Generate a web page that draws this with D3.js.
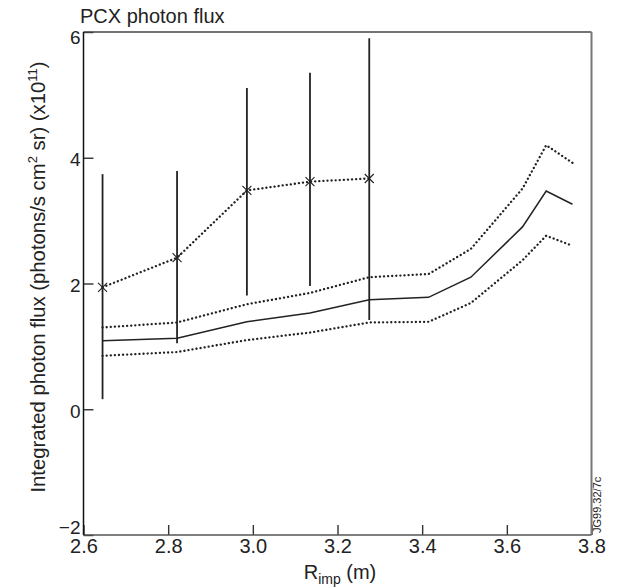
<!DOCTYPE html>
<html>
<head>
<meta charset="utf-8">
<script src="https://cdnjs.cloudflare.com/ajax/libs/d3/7.8.5/d3.min.js"></script>
<style>
body { margin: 0; background: #fff; }
text { font-family: "Liberation Sans", Arial, sans-serif; fill: #222; }
</style>
</head>
<body>
<div id="graph"></div>
<script>
// R positions of the model curve and its band
var rPos = [2.645, 2.821, 2.986, 3.135, 3.275, 3.415, 3.515, 3.637, 3.693, 3.755];
var fluxModel = [1.09, 1.13, 1.39, 1.53, 1.74, 1.78, 2.10, 2.90, 3.47, 3.26];
var fluxUpper = [1.30, 1.38, 1.67, 1.85, 2.10, 2.15, 2.55, 3.51, 4.20, 3.92];
var fluxLower = [0.85, 0.91, 1.10, 1.22, 1.38, 1.39, 1.69, 2.37, 2.76, 2.60];
// measured points with error bars
var rMeas = [2.645, 2.821, 2.986, 3.135, 3.275];
var fluxMeas = [1.94, 2.41, 3.48, 3.62, 3.67];
var errLow = [0.16, 1.05, 1.81, 1.96, 1.42];
var errHigh = [3.74, 3.79, 5.11, 5.35, 5.90];
var xTicks = [2.6, 2.8, 3.0, 3.2, 3.4, 3.6, 3.8];
var yTicks = [-2, 0, 2, 4, 6];

var pLeft = 83.5, pRight = 591.5, pTop = 32, pBottom = 535;

var vis = d3.select("#graph")
    .append("svg")
    .attr("width", 618).attr("height", 587);

var x = d3.scaleLinear().domain([2.6, 3.8]).range([pLeft, pRight]);
var y = d3.scaleLinear().domain([-2, 6]).range([pBottom, pTop]);

// axes, ticks pointing inwards
var gx = vis.append("g")
    .attr("transform", "translate(0," + pBottom + ")")
    .call(d3.axisBottom(x).tickValues(xTicks).tickSizeInner(-10).tickSizeOuter(0)
        .tickPadding(4).tickFormat(d3.format(".1f")));
gx.select(".domain").remove();
gx.selectAll("line").attr("stroke", "#333").attr("stroke-width", 1.4);
gx.selectAll("text").attr("font-size", 20).attr("fill", "#222")
    .style("font-family", "'Liberation Sans', Arial, sans-serif");

var gy = vis.append("g")
    .attr("transform", "translate(" + pLeft + ",0)")
    .call(d3.axisLeft(y).tickValues(yTicks).tickSizeInner(-10).tickSizeOuter(0).tickPadding(3));
gy.select(".domain").remove();
gy.selectAll("line").attr("stroke", "#333").attr("stroke-width", 1.4);
gy.selectAll("text").attr("font-size", 19).attr("fill", "#222")
    .style("font-family", "'Liberation Sans', Arial, sans-serif")
    .attr("dy", function (d) {
        if (d == 6) return "0.62em";
        if (d == -2) return "-0.06em";
        return "0.42em";
    });

// frame
vis.append("line").attr("x1", pLeft).attr("x2", pRight).attr("y1", pTop).attr("y2", pTop)
    .attr("stroke", "#444").attr("stroke-width", 1.5);
vis.append("line").attr("x1", pRight).attr("x2", pRight).attr("y1", pTop).attr("y2", pBottom)
    .attr("stroke", "#777").attr("stroke-width", 2);
vis.append("line").attr("x1", pLeft).attr("x2", pRight).attr("y1", pBottom).attr("y2", pBottom)
    .attr("stroke", "#555").attr("stroke-width", 1.5);
vis.append("line").attr("x1", pLeft).attr("x2", pLeft).attr("y1", pTop).attr("y2", pBottom)
    .attr("stroke", "#111").attr("stroke-width", 1.5);

function draw_curve(rs, vals, dotted) {
    var line = d3.line()
        .x(function (d, i) { return x(rs[i]); })
        .y(function (d) { return y(d); });
    var p = vis.append("path")
        .attr("d", line(vals))
        .attr("fill", "none")
        .attr("stroke", "#222");
    if (dotted) {
        p.attr("stroke-width", 2.3)
            .attr("stroke-linecap", "round")
            .attr("stroke-dasharray", "0.1,4");
    } else {
        p.attr("stroke-width", 1.5);
    }
}

draw_curve(rPos, fluxUpper, true);
draw_curve(rPos, fluxModel, false);
draw_curve(rPos, fluxLower, true);
draw_curve(rMeas, fluxMeas, true);

// error bars
vis.selectAll(".err")
    .data(rMeas)
    .enter()
    .append("line")
    .attr("x1", function (d) { return x(d); })
    .attr("x2", function (d) { return x(d); })
    .attr("y1", function (d, i) { return y(errLow[i]); })
    .attr("y2", function (d, i) { return y(errHigh[i]); })
    .attr("stroke", "#222")
    .attr("stroke-width", 1.8);

// crosses
vis.selectAll(".cross")
    .data(rMeas)
    .enter()
    .append("path")
    .attr("d", function (d, i) {
        var cx = x(d), cy = y(fluxMeas[i]), s = 4.5;
        return "M" + (cx - s) + "," + (cy - s) + "L" + (cx + s) + "," + (cy + s) +
            "M" + (cx - s) + "," + (cy + s) + "L" + (cx + s) + "," + (cy - s);
    })
    .attr("fill", "none")
    .attr("stroke", "#222")
    .attr("stroke-width", 1.1);

// texts
vis.append("text")
    .attr("x", 80).attr("y", 23)
    .attr("font-size", 20)
    .text("PCX photon flux");

var xl = vis.append("text")
    .attr("x", 340).attr("y", 579)
    .attr("font-size", 20)
    .attr("text-anchor", "middle");
xl.append("tspan").text("R");
xl.append("tspan").attr("font-size", 14).attr("dy", 5).text("imp");
xl.append("tspan").attr("dy", -5).text(" (m)");

var yl = vis.append("text")
    .attr("transform", "translate(45,277) rotate(-90)")
    .attr("font-size", 20.3)
    .attr("text-anchor", "middle");
yl.append("tspan").text("Integrated photon flux (photons/s cm");
yl.append("tspan").attr("font-size", 13).attr("dy", -8).text("2");
yl.append("tspan").attr("dy", 8).text(" sr) (x10");
yl.append("tspan").attr("font-size", 13).attr("dy", -8).text("11");
yl.append("tspan").attr("dy", 8).text(")");

vis.append("text")
    .attr("transform", "translate(601,533) rotate(-90)")
    .attr("font-size", 11)
    .text("JG99.32/7c");
</script>
</body>
</html>
